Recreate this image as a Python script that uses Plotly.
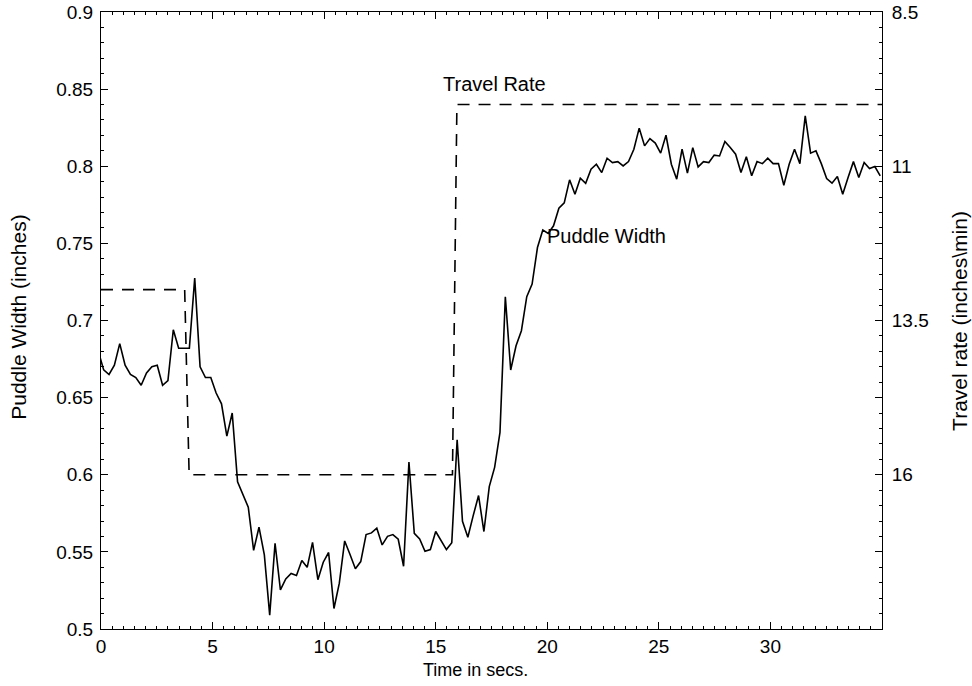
import plotly.graph_objects as go

# Puddle width samples (inches), sampled every 0.24 s starting at t = -0.12 s
sample_step = 0.24
sample_start = -0.12
puddle_width = [0.680, 0.668, 0.665, 0.671, 0.685, 0.671, 0.665, 0.663, 0.658, 0.666,
                0.670, 0.671, 0.658, 0.661, 0.694, 0.682, 0.682, 0.682, 0.7275, 0.670,
                0.663, 0.663, 0.653, 0.646, 0.625, 0.640, 0.5955, 0.5876, 0.579, 0.551,
                0.566, 0.548, 0.509, 0.5556, 0.5254, 0.5325, 0.536, 0.5347, 0.5444, 0.540,
                0.5562, 0.532, 0.5433, 0.5496, 0.5133, 0.5297, 0.5571, 0.5483, 0.539, 0.5437,
                0.5612, 0.5623, 0.5653, 0.5545, 0.5601, 0.5612, 0.5582, 0.5407, 0.6083, 0.5620,
                0.5584, 0.5504, 0.5515, 0.5632, 0.5573, 0.5515, 0.556, 0.6226, 0.5698, 0.5595,
                0.5735, 0.5865, 0.5632, 0.5923, 0.6048, 0.6275, 0.7154, 0.6679, 0.6836, 0.6934,
                0.7154, 0.7236, 0.7473, 0.7586, 0.7564, 0.7614, 0.7728, 0.7763, 0.7912, 0.7819,
                0.7923, 0.789, 0.7981, 0.8013, 0.7959, 0.8052, 0.8024, 0.803, 0.8002, 0.803,
                0.811, 0.8247, 0.8132, 0.8179, 0.815, 0.8085, 0.8201, 0.8013, 0.7916, 0.8111,
                0.7955, 0.8121, 0.7996, 0.803, 0.8024, 0.8072, 0.8067, 0.816, 0.8121, 0.8078,
                0.7959, 0.8061, 0.7938, 0.803, 0.8017, 0.8052, 0.8017, 0.8017, 0.7877, 0.8013,
                0.811, 0.8017, 0.8326, 0.8085, 0.81, 0.8017, 0.792, 0.789, 0.7933, 0.7819,
                0.7927, 0.803, 0.7927, 0.8024, 0.7985, 0.7998, 0.7938]
sample_time = [sample_start + sample_step * i for i in range(len(puddle_width))]

# Travel rate (inches/min)
travel_time = [0, 3.75, 3.95, 15.75, 15.95, 35]
travel_rate = [13, 13, 16, 16, 10, 10]

x_ticks = [0, 5, 10, 15, 20, 25, 30]
y_ticks = [0.5, 0.55, 0.6, 0.65, 0.7, 0.75, 0.8, 0.85, 0.9]
y_tick_text = ["0.5", "0.55", "0.6", "0.65", "0.7", "0.75", "0.8", "0.85", "0.9"]
y2_ticks = [8.5, 9.75, 11, 12.25, 13.5, 14.75, 16, 17.25, 18.5]
y2_tick_text = ["8.5", "", "11", "", "13.5", "", "16", "", ""]

FONT = "Liberation Sans, Arial, Helvetica, sans-serif"

fig = go.Figure()
fig.add_trace(go.Scatter(x=sample_time, y=puddle_width, mode="lines",
                         line=dict(color="black", width=1.6), yaxis="y",
                         showlegend=False, hoverinfo="skip"))
fig.add_trace(go.Scatter(x=travel_time, y=travel_rate, mode="lines",
                         line=dict(color="black", width=1.6, dash="12px,9px"), yaxis="y2",
                         showlegend=False, hoverinfo="skip"))

axis_common = dict(showgrid=False, zeroline=False, showline=True, linecolor="black",
                   linewidth=1, ticks="inside", ticklen=7, tickcolor="black",
                   ticklabeloverflow="allow",
                   tickfont=dict(family=FONT, size=19, color="black"))

fig.update_layout(
    width=972, height=686,
    margin=dict(l=100.7, r=89.5, t=12, b=57, pad=0, autoexpand=False),
    paper_bgcolor="white", plot_bgcolor="white",
    font=dict(family=FONT, size=18, color="black"),
    xaxis=dict(range=[0, 35], tickvals=x_ticks, mirror="ticks",
               minor=dict(ticks="inside", ticklen=3, dtick=0.5, tickcolor="black"),
               **axis_common),
    yaxis=dict(range=[0.5, 0.9], tickvals=y_ticks, ticktext=y_tick_text,
               ticklabelstandoff=3,
               minor=dict(ticks="inside", ticklen=3, dtick=0.01, tickcolor="black"),
               **axis_common),
    yaxis2=dict(range=[18.5, 8.5], overlaying="y", side="right", tickvals=y2_ticks,
                ticktext=y2_tick_text, ticklabelstandoff=5,
                minor=dict(ticks="inside", ticklen=3, dtick=0.25, tickcolor="black"),
                **axis_common),
    annotations=[
        dict(text="Travel Rate", x=15.23, y=0.8535, xref="x", yref="y", xanchor="left",
             yanchor="middle", showarrow=False, font=dict(family=FONT, size=20)),
        dict(text="Puddle Width", x=19.89, y=0.755, xref="x", yref="y", xanchor="left",
             yanchor="middle", showarrow=False, font=dict(family=FONT, size=20)),
        dict(text="Time in secs.", x=0.48, y=-0.066, xref="paper", yref="paper",
             xanchor="center", yanchor="middle", showarrow=False,
             font=dict(family=FONT, size=18)),
        dict(text="Puddle Width (inches)", x=-0.1058, y=0.505, xref="paper", yref="paper",
             xanchor="center", yanchor="middle", textangle=-90, showarrow=False,
             font=dict(family=FONT, size=21)),
        dict(text="Travel rate (inches\\min)", x=1.0991, y=0.5, xref="paper", yref="paper",
             xanchor="center", yanchor="middle", textangle=-90, showarrow=False,
             font=dict(family=FONT, size=21)),
    ],
)

fig.write_html("out.html")
